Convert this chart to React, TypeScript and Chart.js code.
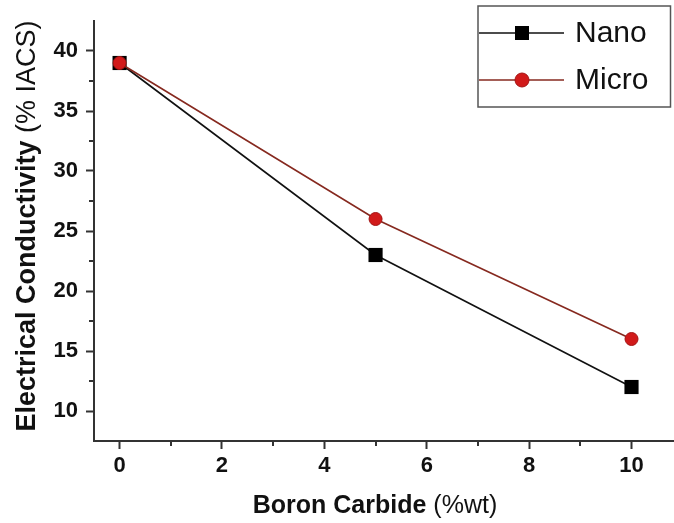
import React, { useEffect, useRef } from "react";
import { Chart, registerables } from "chart.js";

Chart.register(...registerables);

const boronCarbide = [0, 5, 10];
const nanoValues = [39, 23, 12];
const microValues = [39, 26, 16];
const seriesNames = ["Nano", "Micro"];
const xMajorTicks = [0, 2, 4, 6, 8, 10];
const xMinorTicks = [1, 3, 5, 7, 9];
const yMajorTicks = [10, 15, 20, 25, 30, 35, 40];
const yMinorTicks = [12.5, 17.5, 22.5, 27.5, 32.5, 37.5];
const xTitleBold = "Boron Carbide ";
const xTitleRegular = "(%wt)";
const yTitleBold = "Electrical Conductivity ";
const yTitleRegular = "(% IACS)";

const FF = '"Liberation Sans", Arial, sans-serif';
const AXIS = "#333333";
const TEXT = "#111111";
const NANO_LINE = "#111111";
const MICRO_LINE = "#86291f";
const MICRO_FILL = "#d11a1a";
const MICRO_BORDER = "#a31414";

const decorPlugin = {
  id: "decor",
  afterDraw(chart: any) {
    const ctx = chart.ctx as CanvasRenderingContext2D;
    const xs = chart.scales.x;
    const ys = chart.scales.y;
    const area = chart.chartArea;
    ctx.save();
    // minor ticks
    ctx.strokeStyle = AXIS;
    ctx.lineWidth = 2;
    ctx.beginPath();
    xMinorTicks.forEach((v) => {
      const px = Math.round(xs.getPixelForValue(v));
      ctx.moveTo(px, area.bottom);
      ctx.lineTo(px, area.bottom + 5);
    });
    yMinorTicks.forEach((v) => {
      const py = Math.round(ys.getPixelForValue(v));
      ctx.moveTo(area.left, py);
      ctx.lineTo(area.left - 5, py);
    });
    ctx.stroke();

    // x title
    ctx.fillStyle = TEXT;
    ctx.textBaseline = "alphabetic";
    ctx.textAlign = "left";
    ctx.font = `bold 25px ${FF}`;
    const wb = ctx.measureText(xTitleBold).width;
    ctx.font = `25px ${FF}`;
    const wr = ctx.measureText(xTitleRegular).width;
    const xc = 375;
    const sx = xc - (wb + wr) / 2;
    ctx.font = `bold 25px ${FF}`;
    ctx.fillText(xTitleBold, sx, 513);
    ctx.font = `25px ${FF}`;
    ctx.fillText(xTitleRegular, sx + wb, 513);

    // y title
    ctx.save();
    ctx.translate(28, 226);
    ctx.rotate(-Math.PI / 2);
    ctx.textBaseline = "middle";
    ctx.font = `bold 27px ${FF}`;
    const yb = ctx.measureText(yTitleBold).width;
    ctx.font = `27px ${FF}`;
    const yr = ctx.measureText(yTitleRegular).width;
    const st = -(yb + yr) / 2;
    ctx.font = `bold 27px ${FF}`;
    ctx.fillText(yTitleBold, st, 0);
    ctx.font = `27px ${FF}`;
    ctx.fillText(yTitleRegular, st + yb, 0);
    ctx.restore();

    // legend
    ctx.strokeStyle = "#555555";
    ctx.lineWidth = 1.5;
    ctx.strokeRect(478, 6, 192.5, 101);
    const rows = [
      { name: seriesNames[0], y: 33, line: NANO_LINE, type: "rect" },
      { name: seriesNames[1], y: 80, line: MICRO_LINE, type: "circle" },
    ];
    rows.forEach((r) => {
      ctx.strokeStyle = r.line;
      ctx.lineWidth = 1.5;
      ctx.beginPath();
      ctx.moveTo(479, r.y);
      ctx.lineTo(564, r.y);
      ctx.stroke();
      if (r.type === "rect") {
        ctx.fillStyle = "#000000";
        ctx.fillRect(522 - 7, r.y - 7, 14, 14);
      } else {
        ctx.beginPath();
        ctx.arc(522, r.y, 7, 0, Math.PI * 2);
        ctx.fillStyle = MICRO_FILL;
        ctx.fill();
        ctx.strokeStyle = MICRO_BORDER;
        ctx.lineWidth = 1;
        ctx.stroke();
      }
      ctx.fillStyle = TEXT;
      ctx.font = `30px ${FF}`;
      ctx.textBaseline = "middle";
      ctx.textAlign = "left";
      ctx.fillText(r.name, 575, r.y + 1);
    });
    ctx.restore();
  },
};

export default function App() {
  const ref = useRef<HTMLCanvasElement | null>(null);
  useEffect(() => {
    if (!ref.current) return;
    const chart = new Chart(ref.current, {
      type: "line",
      data: {
        datasets: [
          {
            label: seriesNames[0],
            data: boronCarbide.map((x, i) => ({ x, y: nanoValues[i] })),
            borderColor: NANO_LINE,
            backgroundColor: "#000000",
            borderWidth: 1.6,
            pointStyle: "rect",
            pointRadius: 10,
            pointBorderWidth: 0,
            pointBackgroundColor: "#000000",
            pointBorderColor: "#000000",
            tension: 0,
            order: 1,
          },
          {
            label: seriesNames[1],
            data: boronCarbide.map((x, i) => ({ x, y: microValues[i] })),
            borderColor: MICRO_LINE,
            backgroundColor: MICRO_FILL,
            borderWidth: 1.6,
            pointStyle: "circle",
            pointRadius: 6.5,
            pointBorderWidth: 1,
            pointBackgroundColor: MICRO_FILL,
            pointBorderColor: MICRO_BORDER,
            tension: 0,
            order: 0,
          },
        ],
      },
      options: {
        animation: false,
        responsive: true,
        maintainAspectRatio: false,
        layout: { autoPadding: false, padding: { top: 21, right: 0, left: 0, bottom: 0 } },
        plugins: { legend: { display: false }, title: { display: false }, tooltip: { enabled: false } },
        scales: {
          x: {
            type: "linear",
            min: -0.5,
            max: 10.83,
            afterBuildTicks: (s: any) => {
              s.ticks = xMajorTicks.map((v) => ({ value: v }));
            },
            afterFit: (s: any) => {
              s.height = 82;
              s.paddingLeft = 0;
              s.paddingRight = 0;
            },
            border: { display: true, color: AXIS, width: 2 },
            grid: { drawOnChartArea: false, drawTicks: true, tickLength: 8, tickWidth: 2, tickColor: AXIS, color: AXIS },
            ticks: { color: TEXT, font: { family: FF, size: 22, weight: "bold" }, padding: 4, maxRotation: 0 },
          },
          y: {
            type: "linear",
            min: 7.5,
            max: 42.5,
            afterBuildTicks: (s: any) => {
              s.ticks = yMajorTicks.map((v) => ({ value: v }));
            },
            afterFit: (s: any) => {
              s.width = 94;
              s.paddingTop = 0;
              s.paddingBottom = 0;
            },
            border: { display: true, color: AXIS, width: 2 },
            grid: { drawOnChartArea: false, drawTicks: true, tickLength: 8, tickWidth: 2, tickColor: AXIS, color: AXIS },
            ticks: { color: TEXT, font: { family: FF, size: 22, weight: "bold" }, padding: 8 },
          },
        },
      },
      plugins: [decorPlugin],
    } as any);
    return () => chart.destroy();
  }, []);
  return (
    <div style={{ position: "absolute", left: 0, top: 0, width: 674, height: 523, background: "#ffffff" }}>
      <canvas ref={ref} />
    </div>
  );
}
